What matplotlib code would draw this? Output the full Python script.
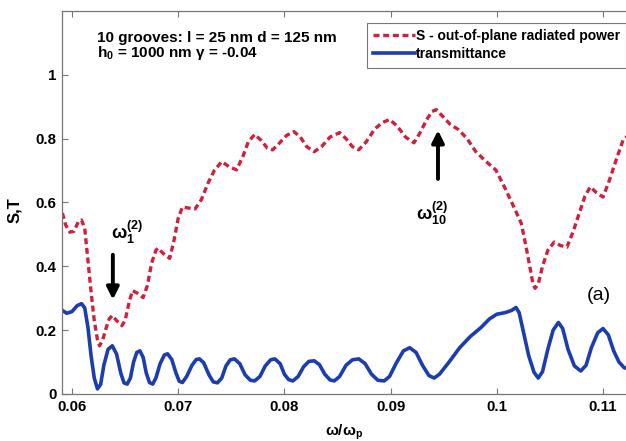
import numpy as np
import matplotlib
matplotlib.use('Agg')
import matplotlib.pyplot as plt

plt.rcParams['font.family'] = ['Liberation Sans', 'DejaVu Sans']
plt.rcParams['font.weight'] = 'bold'
plt.rcParams['axes.labelweight'] = 'bold'
plt.rcParams['mathtext.fontset'] = 'custom'
plt.rcParams['mathtext.rm'] = 'Liberation Sans:bold'
plt.rcParams['mathtext.it'] = 'Liberation Sans:bold'
plt.rcParams['mathtext.bf'] = 'Liberation Sans:bold'
plt.rcParams['mathtext.default'] = 'rm'

# S - out-of-plane radiated power
s_freq = [0.0591, 0.0594, 0.0598, 0.0602, 0.0606, 0.0609, 0.0612, 0.0615, 0.0618, 0.0621,
          0.0624, 0.0626, 0.0629, 0.0632, 0.0635, 0.0638, 0.0642, 0.0647, 0.0650, 0.0654,
          0.0657, 0.0662, 0.0667, 0.0671, 0.0675, 0.0679, 0.0681, 0.0686, 0.0692, 0.0696,
          0.0700, 0.0704, 0.0709, 0.0716, 0.0722, 0.0728, 0.0734, 0.0741, 0.0748, 0.0755,
          0.0761, 0.0766, 0.0772, 0.0778, 0.0784, 0.0789, 0.0795, 0.0802, 0.0809, 0.0815,
          0.0821, 0.0828, 0.0835, 0.0843, 0.0852, 0.0858, 0.0864, 0.0870, 0.0877, 0.0885,
          0.0892, 0.0899, 0.0906, 0.0914, 0.0922, 0.0928, 0.0934, 0.0939, 0.0943, 0.0949,
          0.0956, 0.0964, 0.0972, 0.0980, 0.0990, 0.0999, 0.1007, 0.1016, 0.1023, 0.1027,
          0.1031, 0.1034, 0.1036, 0.1039, 0.1043, 0.1048, 0.1054, 0.1060, 0.1066, 0.1072,
          0.1078, 0.1083, 0.1088, 0.1094, 0.1100, 0.1106, 0.1112, 0.1119, 0.1124]
s_vals = [0.567, 0.530, 0.507, 0.510, 0.540, 0.545, 0.520, 0.420, 0.320, 0.230,
          0.170, 0.151, 0.170, 0.205, 0.235, 0.246, 0.230, 0.214, 0.230, 0.290,
          0.324, 0.315, 0.302, 0.340, 0.410, 0.450, 0.457, 0.440, 0.425, 0.480,
          0.550, 0.586, 0.583, 0.580, 0.610, 0.660, 0.700, 0.728, 0.712, 0.702,
          0.745, 0.790, 0.813, 0.795, 0.770, 0.765, 0.785, 0.810, 0.822, 0.805,
          0.775, 0.759, 0.775, 0.805, 0.819, 0.800, 0.775, 0.765, 0.790, 0.830,
          0.850, 0.860, 0.840, 0.805, 0.787, 0.820, 0.860, 0.885, 0.891, 0.870,
          0.845, 0.828, 0.800, 0.760, 0.728, 0.702, 0.650, 0.586, 0.535, 0.470,
          0.400, 0.345, 0.331, 0.345, 0.400, 0.450, 0.476, 0.465, 0.460, 0.510,
          0.570, 0.620, 0.649, 0.630, 0.617, 0.670, 0.730, 0.797, 0.810]

# transmittance
t_freq = [0.0591, 0.0595, 0.0600, 0.0605, 0.0609, 0.0612, 0.0615, 0.0618, 0.0621, 0.0624,
          0.0627, 0.0630, 0.0634, 0.0638, 0.0642, 0.0646, 0.0649, 0.0652, 0.0655, 0.0658,
          0.0661, 0.0664, 0.0667, 0.0670, 0.0673, 0.0676, 0.0679, 0.0683, 0.0687, 0.0690,
          0.0694, 0.0698, 0.0701, 0.0704, 0.0708, 0.0713, 0.0717, 0.0720, 0.0724, 0.0729,
          0.0733, 0.0737, 0.0741, 0.0745, 0.0749, 0.0753, 0.0758, 0.0763, 0.0768, 0.0772,
          0.0777, 0.0782, 0.0787, 0.0791, 0.0796, 0.0800, 0.0804, 0.0808, 0.0813, 0.0818,
          0.0823, 0.0828, 0.0833, 0.0838, 0.0843, 0.0847, 0.0852, 0.0858, 0.0864, 0.0870,
          0.0876, 0.0882, 0.0888, 0.0894, 0.0899, 0.0905, 0.0912, 0.0918, 0.0924, 0.0930,
          0.0936, 0.0941, 0.0946, 0.0955, 0.0965, 0.0975, 0.0985, 0.0993, 0.1000, 0.1008,
          0.1014, 0.1018, 0.1021, 0.1025, 0.1030, 0.1035, 0.1039, 0.1043, 0.1048, 0.1053,
          0.1058, 0.1062, 0.1067, 0.1073, 0.1079, 0.1084, 0.1089, 0.1095, 0.1100, 0.1105,
          0.1110, 0.1115, 0.1120, 0.1124]
t_vals = [0.262, 0.253, 0.258, 0.277, 0.283, 0.270, 0.210, 0.120, 0.050, 0.016,
          0.030, 0.090, 0.140, 0.151, 0.125, 0.065, 0.035, 0.031, 0.050, 0.100,
          0.130, 0.135, 0.115, 0.065, 0.036, 0.031, 0.050, 0.095, 0.122, 0.126,
          0.108, 0.065, 0.040, 0.036, 0.055, 0.090, 0.108, 0.110, 0.098, 0.060,
          0.038, 0.035, 0.050, 0.088, 0.107, 0.110, 0.095, 0.060, 0.043, 0.041,
          0.055, 0.088, 0.107, 0.110, 0.095, 0.062, 0.045, 0.041, 0.055, 0.085,
          0.102, 0.104, 0.092, 0.062, 0.044, 0.041, 0.055, 0.090, 0.107, 0.110,
          0.095, 0.062, 0.043, 0.041, 0.055, 0.095, 0.135, 0.145, 0.130, 0.090,
          0.058, 0.050, 0.062, 0.100, 0.145, 0.180, 0.208, 0.235, 0.250, 0.255,
          0.262, 0.271, 0.255, 0.195, 0.120, 0.068, 0.050, 0.070, 0.140, 0.200,
          0.224, 0.205, 0.140, 0.088, 0.072, 0.090, 0.145, 0.192, 0.205, 0.185,
          0.135, 0.100, 0.082, 0.080]

x_ticks = [0.06, 0.07, 0.08, 0.09, 0.1, 0.11]
x_ticklabels = ['0.06', '0.07', '0.08', '0.09', '0.1', '0.11']
y_ticks = [0, 0.2, 0.4, 0.6, 0.8, 1.0]
y_ticklabels = ['0', '0.2', '0.4', '0.6', '0.8', '1']

red = '#d0203c'
blue = '#1b3db0'

fig = plt.figure(figsize=(6.26, 4.41), dpi=100)
ax = fig.add_axes([0.099, 0.1066, 0.901, 0.8685])

line_s, = ax.plot(s_freq, s_vals, color=red, lw=2.4, dashes=(1.8, 1.1),
                  label='S - out-of-plane radiated power')
line_t, = ax.plot(t_freq, t_vals, color=blue, lw=2.6,
                  label='transmittance')

ax.set_xlim(0.05906, 0.11216)
ax.set_ylim(0, 1.2)
ax.set_xticks(x_ticks)
ax.set_xticklabels(x_ticklabels)
ax.set_yticks(y_ticks)
ax.set_yticklabels(y_ticklabels)
ax.tick_params(direction='in', length=4, width=0.8, color='#777777',
               labelsize=10.8, top=True, pad=4)
for sp in ['left', 'bottom', 'top']:
    ax.spines[sp].set_color('#777777')
    ax.spines[sp].set_linewidth(0.9)
ax.spines['right'].set_visible(False)

ax.set_ylabel('S,T', fontsize=12, fontweight='bold')
ax.yaxis.set_label_coords(-0.07, 0.48)
ax.set_xlabel(r'$\omega/\omega_p$', fontsize=11, fontweight='bold')
ax.xaxis.set_label_coords(0.5, -0.075)

# parameters box
ax.text(0.062, 0.948, '10 grooves: l = 25 nm d = 125 nm\n' + r'h$_0$ = 1000 nm $\gamma$ = -0.04',
        transform=ax.transAxes, ha='left', va='top', fontsize=11, linespacing=0.95)

leg = ax.legend(loc='upper right', bbox_to_anchor=(1.0, 0.969), borderaxespad=0,
                fontsize=10, handlelength=3.0, handletextpad=0.05, labelspacing=0.3,
                borderpad=0.45, fancybox=False, framealpha=1)
leg.get_frame().set_edgecolor('#777777')
leg.get_frame().set_linewidth(0.8)

# arrows marking the resonances
ax.annotate('', xy=(0.06385, 0.287), xytext=(0.06385, 0.445),
            arrowprops=dict(arrowstyle='-|>', lw=2.8, color='black', mutation_scale=18))
ax.text(0.0652, 0.505, r'$\omega_1^{(2)}$', ha='center', va='center', fontsize=13)
ax.annotate('', xy=(0.09446, 0.835), xytext=(0.09446, 0.665),
            arrowprops=dict(arrowstyle='-|>', lw=2.8, color='black', mutation_scale=18))
ax.text(0.0939, 0.565, r'$\omega_{10}^{(2)}$', ha='center', va='center', fontsize=13)

ax.text(0.1096, 0.309, '(a)', ha='center', va='center', fontsize=14, fontweight='normal')

fig.savefig('out.png', dpi=100)
